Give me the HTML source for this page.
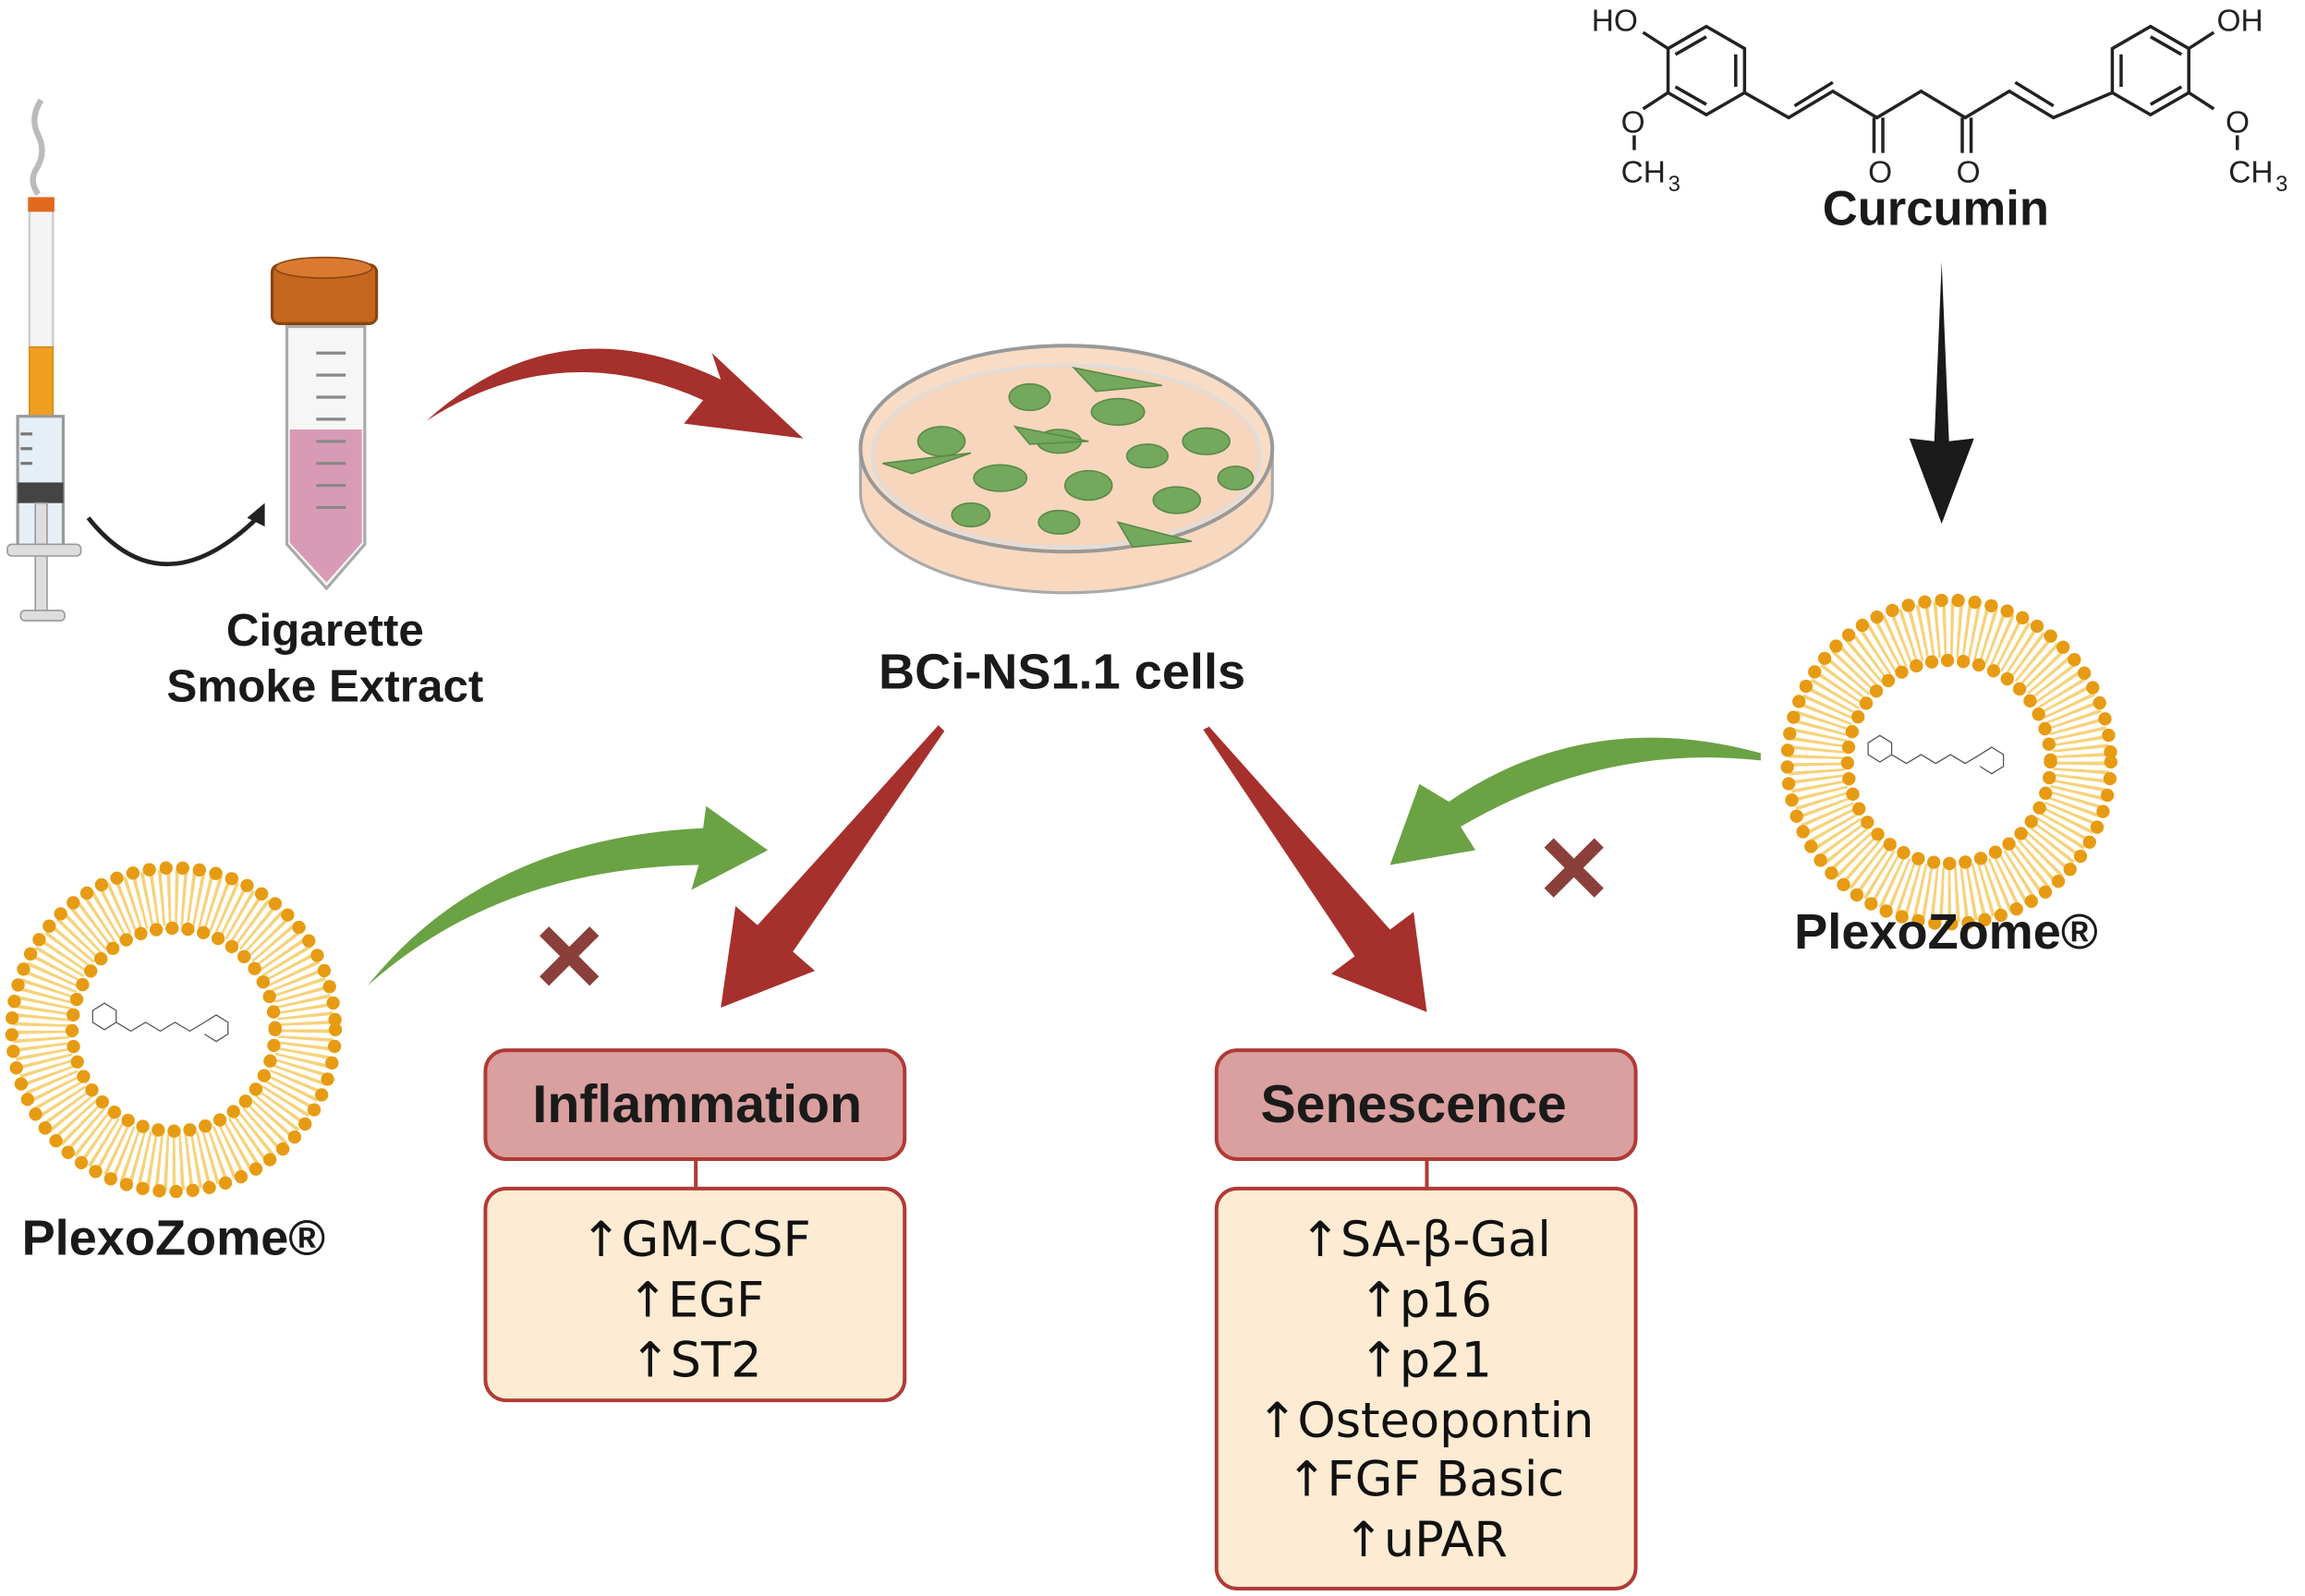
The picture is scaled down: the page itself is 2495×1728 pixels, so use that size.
<!DOCTYPE html>
<html><head><meta charset="utf-8"><style>
html,body{margin:0;padding:0;background:#fff}
svg{display:block}
.b{font-family:"Liberation Sans",sans-serif;font-weight:bold;fill:#1a1a1a}
.l{font-family:"DejaVu Sans","Liberation Sans",sans-serif;fill:#111;font-size:33px}
</style></head><body>
<svg width="2495" height="1728" viewBox="0 0 1567 1085" preserveAspectRatio="none" xmlns="http://www.w3.org/2000/svg">
<rect width="1567" height="1085" fill="#fff"/>
<path d="M28,68 Q20,80 26,92 Q32,104 24,116 Q20,124 26,132" fill="none" stroke="#bbb" stroke-width="4"/>
<rect x="20" y="140" width="16" height="96" fill="#f4f4f4" stroke="#ccc" stroke-width="1.5"/>
<rect x="19" y="134" width="18" height="10" fill="#e06a1c"/>
<rect x="20" y="236" width="16" height="48" fill="#f0a020" stroke="#d48a10"/>
<rect x="12" y="283" width="31" height="88" fill="#e6eef6" stroke="#999" stroke-width="2"/>
<rect x="12" y="328" width="31" height="14" fill="#444"/>
<rect x="24" y="342" width="8" height="75" fill="#ddd" stroke="#999"/>
<rect x="5" y="370" width="50" height="8" rx="3" fill="#ddd" stroke="#999"/>
<rect x="14" y="415" width="30" height="7" rx="3" fill="#ddd" stroke="#999"/>
<g stroke="#777" stroke-width="2"><line x1="14" y1="295" x2="22" y2="295"/><line x1="14" y1="305" x2="22" y2="305"/><line x1="14" y1="315" x2="22" y2="315"/></g>
<path d="M60,352 Q110,415 175,352" fill="none" stroke="#222" stroke-width="3"/>
<path d="M168,352 L180,342 L180,358 Z" fill="#222"/>
<path d="M195,222 L248,222 L248,370 L222,400 L195,370 Z" fill="#f6f6f6" stroke="#aaa" stroke-width="2"/>
<path d="M197,292 L246,292 L246,369 L222,396 L197,369 Z" fill="#d99ab5"/>
<g stroke="#888" stroke-width="2"><line x1="215" y1="240" x2="235" y2="240"/><line x1="215" y1="255" x2="235" y2="255"/><line x1="215" y1="270" x2="235" y2="270"/><line x1="215" y1="285" x2="235" y2="285"/><line x1="215" y1="300" x2="235" y2="300"/><line x1="215" y1="315" x2="235" y2="315"/><line x1="215" y1="330" x2="235" y2="330"/><line x1="215" y1="345" x2="235" y2="345"/></g>
<rect x="185" y="180" width="71" height="40" rx="5" fill="#c4661e" stroke="#8a4412" stroke-width="2"/>
<ellipse cx="220" cy="182" rx="33" ry="7" fill="#d97a30" stroke="#8a4412"/>
<text class="b" x="221" y="439" font-size="31" text-anchor="middle">Cigarette</text>
<text class="b" x="221" y="477" font-size="31" text-anchor="middle">Smoke Extract</text>
<path d="M290,286 Q380,205 490,258 L484,240 L546,298 L465,288 L478,272 Q380,228 290,286 Z" fill="#a6302c"/>
<path d="M585,305 L585,335 A140,68 0 0 0 865,335 L865,305 Z" fill="#f8d9c0" stroke="#aaa" stroke-width="2"/>
<ellipse cx="725" cy="305" rx="140" ry="70" fill="#f8dcc6" stroke="#999" stroke-width="2.5"/>
<ellipse cx="725" cy="310" rx="132" ry="62" fill="#f7d6bd" stroke="#ddd" stroke-width="2"/>
<g fill="#74a85c" stroke="#5a8a48" stroke-width="1">
<ellipse cx="640" cy="300" rx="16" ry="10"/><ellipse cx="700" cy="270" rx="14" ry="9"/><ellipse cx="760" cy="280" rx="18" ry="9"/><ellipse cx="820" cy="300" rx="16" ry="9"/>
<ellipse cx="680" cy="325" rx="18" ry="9"/><ellipse cx="740" cy="330" rx="16" ry="10"/><ellipse cx="800" cy="340" rx="16" ry="9"/><ellipse cx="720" cy="355" rx="14" ry="8"/>
<ellipse cx="660" cy="350" rx="13" ry="8"/><ellipse cx="780" cy="310" rx="14" ry="8"/><ellipse cx="720" cy="300" rx="15" ry="8"/><ellipse cx="840" cy="325" rx="12" ry="8"/>
<path d="M600,315 L660,308 L620,322 Z"/><path d="M690,290 L740,300 L700,302 Z"/><path d="M730,250 L790,262 L745,266 Z"/><path d="M760,355 L810,368 L770,372 Z"/>
</g>
<text class="b" x="722" y="468" font-size="34" text-anchor="middle">BCi-NS1.1 cells</text>
<g stroke="#222" stroke-width="2.2" fill="none">
<path d="M1160,18 L1186,33 L1186,63 L1160,78 L1134,63 L1134,33 Z"/>
<path d="M1180,37 L1180,59 M1160,25 L1139,37 M1160,71 L1139,59"/>
<path d="M1186,63 L1216,80 L1246,62 L1276,80 L1306,62 L1336,80 L1366,62 L1396,80 L1436,63"/>
<path d="M1220,72 L1246,56 M1370,56 L1396,72"/>
<path d="M1274,80 L1274,104 M1280,80 L1280,104 M1334,80 L1334,104 M1340,80 L1340,104"/>
<path d="M1462,18 L1488,33 L1488,63 L1462,78 L1436,63 L1436,33 Z"/>
<path d="M1442,37 L1442,59 M1462,25 L1483,37 M1462,71 L1483,59"/>
<path d="M1134,33 L1117,22 M1134,63 L1117,74 M1111,92 L1111,102 M1488,33 L1505,22 M1488,63 L1505,74 M1521,92 L1521,102"/>
</g>
<g font-family="Liberation Sans,sans-serif" font-size="21" fill="#222">
<text x="1082" y="21">HO</text><text x="1102" y="90">O</text><text x="1102" y="124">CH</text><text x="1134" y="130" font-size="15">3</text>
<text x="1270" y="124">O</text><text x="1330" y="124">O</text>
<text x="1507" y="21">OH</text><text x="1513" y="90">O</text><text x="1515" y="124">CH</text><text x="1547" y="130" font-size="15">3</text>
</g>
<text class="b" x="1316" y="153" font-size="33" text-anchor="middle">Curcumin</text>
<path d="M1320,178 L1325,300 L1342,298 L1320,356 L1298,298 L1315,300 Z" fill="#1a1a1a"/>
<g>
<circle cx="1325" cy="518" r="90" fill="none" stroke="#f6d27a" stroke-width="38" stroke-dasharray="2 3"/>
<circle cx="1325" cy="518" r="110" fill="none" stroke="#e79b12" stroke-width="9" stroke-dasharray="0 11.4" stroke-linecap="round"/>
<circle cx="1325" cy="518" r="69" fill="none" stroke="#e79b12" stroke-width="9" stroke-dasharray="0 10.8" stroke-linecap="round"/>
<g stroke="#555" stroke-width="0.8" fill="none"><path d="M1278,500 l8,5 l0,8 l-8,5 l-8,-5 l0,-8 Z M1286,513 l10,6 l10,-6 l10,6 l10,-6 l10,6 l10,-6 l8,-5 l8,5 l0,8 l-8,5 l-8,-5"/></g>
</g>
<text class="b" x="1323" y="645" font-size="34" text-anchor="middle">PlexoZome®</text>
<g>
<circle cx="118" cy="700" r="90" fill="none" stroke="#f6d27a" stroke-width="38" stroke-dasharray="2 3"/>
<circle cx="118" cy="700" r="110" fill="none" stroke="#e79b12" stroke-width="9" stroke-dasharray="0 11.4" stroke-linecap="round"/>
<circle cx="118" cy="700" r="69" fill="none" stroke="#e79b12" stroke-width="9" stroke-dasharray="0 10.8" stroke-linecap="round"/>
<g stroke="#555" stroke-width="0.8" fill="none"><path d="M71,682 l8,5 l0,8 l-8,5 l-8,-5 l0,-8 Z M79,695 l10,6 l10,-6 l10,6 l10,-6 l10,6 l10,-6 l8,-5 l8,5 l0,8 l-8,5 l-8,-5"/></g>
</g>
<text class="b" x="118" y="853" font-size="34" text-anchor="middle">PlexoZome®</text>
<path d="M250,670 Q330,570 478,563 L480,548 L522,578 L470,605 L475,588 Q340,590 250,670 Z" fill="#6aa244"/>
<path d="M1197,512 Q1080,480 985,545 L965,533 L945,588 L1003,578 L993,562 Q1090,505 1197,517 Z" fill="#6aa244"/>
<path d="M638,493 L642,497 L539,647 L554,660 L490,685 L500,616 L515,629 Z" fill="#a6302c"/>
<path d="M822,494 L945,632 L961,620 L970,688 L905,662 L921,650 L818,496 Z" fill="#a6302c"/>
<g stroke="#8b3f3b" stroke-width="9">
<path d="M370,633 L404,667 M404,633 L370,667"/>
<path d="M1053,573 L1087,607 M1087,573 L1053,607"/>
</g>
<line x1="473" y1="788" x2="473" y2="808" stroke="#b03a35" stroke-width="2.5"/>
<rect x="330" y="714" width="285" height="74" rx="14" fill="#d9a09f" stroke="#b03a35" stroke-width="2.5"/>
<text class="b" x="474" y="763" font-size="36" text-anchor="middle">Inflammation</text>
<rect x="330" y="808" width="285" height="144" rx="14" fill="#fdebd3" stroke="#b03a35" stroke-width="2.5"/>
<text class="l" x="473" y="854" text-anchor="middle">↑GM-CSF</text>
<text class="l" x="473" y="895" text-anchor="middle">↑EGF</text>
<text class="l" x="473" y="936" text-anchor="middle">↑ST2</text>
<line x1="970" y1="788" x2="970" y2="808" stroke="#b03a35" stroke-width="2.5"/>
<rect x="827" y="714" width="285" height="74" rx="14" fill="#d9a09f" stroke="#b03a35" stroke-width="2.5"/>
<text class="b" x="961" y="763" font-size="36" text-anchor="middle">Senescence</text>
<rect x="827" y="808" width="285" height="272" rx="14" fill="#fdebd3" stroke="#b03a35" stroke-width="2.5"/>
<text class="l" x="969" y="854" text-anchor="middle">↑SA-β-Gal</text>
<text class="l" x="969" y="895" text-anchor="middle">↑p16</text>
<text class="l" x="969" y="936" text-anchor="middle">↑p21</text>
<text class="l" x="969" y="977" text-anchor="middle">↑Osteopontin</text>
<text class="l" x="969" y="1017" text-anchor="middle">↑FGF Basic</text>
<text class="l" x="969" y="1058" text-anchor="middle">↑uPAR</text>
</svg>
</body></html>
